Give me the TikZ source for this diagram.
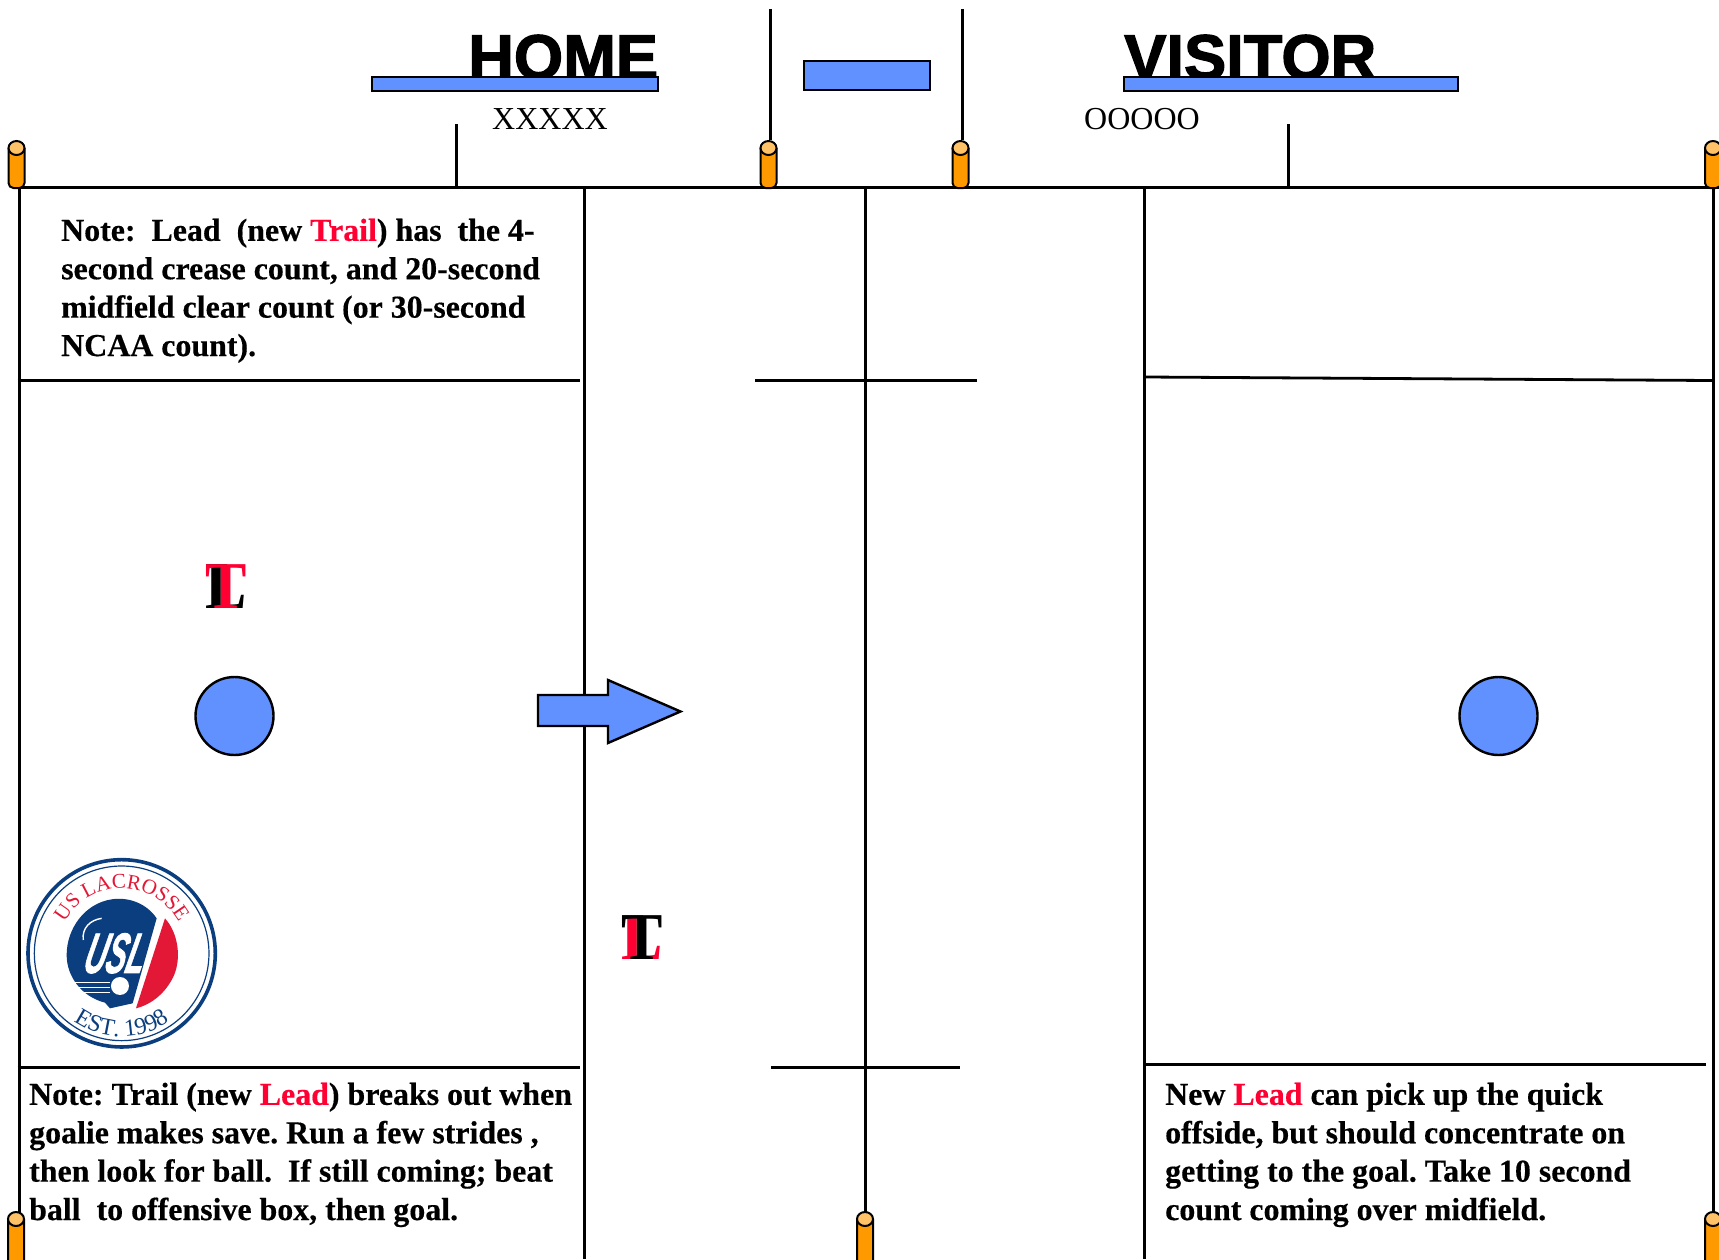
\documentclass[tikz,border=0pt]{standalone}
\usepackage{fontspec}
\setmainfont{Liberation Serif}[BoldFeatures={FakeBold=0.4}]
\newfontfamily\headfont[FakeBold=2]{Liberation Sans Bold}
\newfontfamily\plainserif{Liberation Serif}
\newfontfamily\markfont[FakeBold=1.5]{Liberation Sans Bold Italic}
\newfontfamily\letterfont{Liberation Serif Bold}
\usetikzlibrary{decorations.text}
\definecolor{fieldblue}{HTML}{6190FF}
\definecolor{coneorange}{HTML}{FF9900}
\definecolor{conetop}{HTML}{FFC266}
\definecolor{notered}{HTML}{FF0033}
\definecolor{logoblue}{HTML}{0B3E7E}
\definecolor{logored}{HTML}{E31837}
\newcommand{\cone}[3]{%
  \draw[conestroke,fill=coneorange,rounded corners=5pt] (#1-8,#2) -- (#1-8,#3) -- (#1+8,#3) -- (#1+8,#2);
  \draw[conestroke,fill=conetop] (#1,#2) ellipse (8 and 7);
}
\tikzset{
  x=1pt,y=-1pt,
  fieldline/.style={line width=2.8pt,black},
  conestroke/.style={line width=2pt,black},
  bluebox/.style={draw=black,line width=2.4pt,fill=fieldblue},
  notetext/.style={font=\fontsize{31.9}{38.4}\selectfont\bfseries\frenchspacing,align=left,anchor=north west,inner sep=0pt,text=black},
  teamtitle/.style={font=\fontsize{63.3}{64}\headfont,anchor=base west,inner sep=0pt},
  roster/.style={font=\fontsize{32}{32}\plainserif,anchor=base west,inner sep=0pt},
  bigletter/.style={font=\fontsize{62}{62}\letterfont,anchor=base,inner sep=0pt,yscale=1.08},
}
\begin{document}
\begin{tikzpicture}
\useasboundingbox (0,0) rectangle (1719,1259);
\clip (0,0) rectangle (1719,1259);
% titles
\node[teamtitle] (home) at (468,79) {HOME};
\node[teamtitle] (visitor) at (1124,79) {VISITOR};
\draw[bluebox] (372,77) rectangle (658,91);
\draw[bluebox] (804,61) rectangle (930,90);
\draw[bluebox] (1124,77) rectangle (1458,91);
\node[roster] (xs) at (492,129) {XXXXX};
\node[roster] (os) at (1084,129) {OOOOO};
% field lines
\draw[fieldline] (18,187.5) -- (1719,187.5);
\draw[fieldline] (19.5,188) -- (19.5,1259);
\draw[fieldline] (584.5,188) -- (584.5,1259);
\draw[fieldline] (865.5,188) -- (865.5,1259);
\draw[fieldline] (1144.5,188) -- (1144.5,1259);
\draw[fieldline] (1713.5,188) -- (1713.5,1259);
\draw[fieldline] (456.5,124) -- (456.5,188);
\draw[fieldline] (1288.5,124) -- (1288.5,188);
\draw[fieldline] (770.5,9) -- (770.5,140);
\draw[fieldline] (962.5,9) -- (962.5,140);
\draw[fieldline] (17.5,380.5) -- (580,380.5);
\draw[fieldline] (755,380.5) -- (977,380.5);
\draw[fieldline] (1146,377) -- (1712,380.5);
\draw[fieldline] (17.5,1067.5) -- (580,1067.5);
\draw[fieldline] (771,1067.5) -- (960,1067.5);
\draw[fieldline] (1146,1064.5) -- (1706,1064.5);
% cones
\cone{16.5}{148}{188}
\cone{768.5}{148}{188}
\cone{960.5}{148}{188}
\cone{1713}{148}{188}
\cone{16}{1219}{1270}
\cone{865}{1219}{1270}
\cone{1713}{1219}{1270}
% goals and arrow
\draw[bluebox] (234.5,716) circle (39);
\draw[bluebox] (1498.5,716) circle (39);
\draw[bluebox] (538,695) -- (608,695) -- (608,680) -- (680.5,711.5) -- (608,743) -- (608,726) -- (538,726) -- cycle;
% letters
\node[bigletter,text=black] (letterL1) at (226.5,608) {L};
\node[bigletter,text=notered] (letterT1) at (226.5,608) {T};
\node[bigletter,text=notered] (letterL2) at (642.5,959) {L};
\node[bigletter,text=black] (letterT2) at (642.5,959) {T};
% notes
\node[notetext] (note1) at (61,218.5) {Note:\ \ Lead\ \ (new \textcolor{notered}{Trail}) has\ \ the 4-\\second crease count, and 20-second\\midfield clear count (or 30-second\\NCAA count).};
\node[notetext] (note2) at (29,1082.5) {Note: Trail (new \textcolor{notered}{Lead}) breaks out when\\goalie makes save. Run a few strides ,\\then look for ball.\ \ If still coming; beat\\ball\ \ to offensive box, then goal.};
\node[notetext] (note3) at (1165,1082.5) {New \textcolor{notered}{Lead} can pick up the quick\\offside, but should concentrate on\\getting to the goal. Take 10 second\\count coming over midfield.};
% logo
\begin{scope}[shift={(0,840)},x=0.3333pt,y=-0.3333pt]
  \draw[logoblue,line width=3.6pt,fill=white] (365,340) circle (281);
  \draw[logoblue,line width=1.2pt] (365,340) circle (262);
  \fill[logoblue] (470,235) .. controls (440,190) and (385,170) .. (335,178)
     .. controls (255,190) and (200,265) .. (200,345)
     .. controls (200,410) and (245,470) .. (315,488)
     -- (330,505) -- (398,490) -- cycle;
  \fill[logored] (495,235) .. controls (540,285) and (545,370) .. (515,420)
     .. controls (490,465) and (450,495) .. (408,505) -- cycle;
  \draw[white,line width=1.4pt] (250,300) .. controls (245,265) and (270,240) .. (305,235);
  \draw[white,line width=0.8pt] (225,428) -- (330,428) (225,442) -- (330,442) (235,456) -- (330,456);
  \fill[white] (360,438) circle (27);
  \node[font=\fontsize{30}{30}\markfont,text=white,inner sep=0pt,xslant=0.25,yscale=1.9] (uslmark) at (350,340) {USL};
  \path[decorate,decoration={text along path,text align=center,
     text={|\fontsize{21}{21}\plainserif\color{logored}|US LACROSSE}}]
     (365-195,340) arc[start angle=180,end angle=0,radius=195,y radius=-195];
  \path[decorate,decoration={text along path,text align=center,
     text={|\fontsize{24}{24}\plainserif\color{logoblue}|EST. 1998}}]
     (365-250,340) arc[start angle=180,end angle=360,radius=250,y radius=-250];
\end{scope}
\end{tikzpicture}
\end{document}
